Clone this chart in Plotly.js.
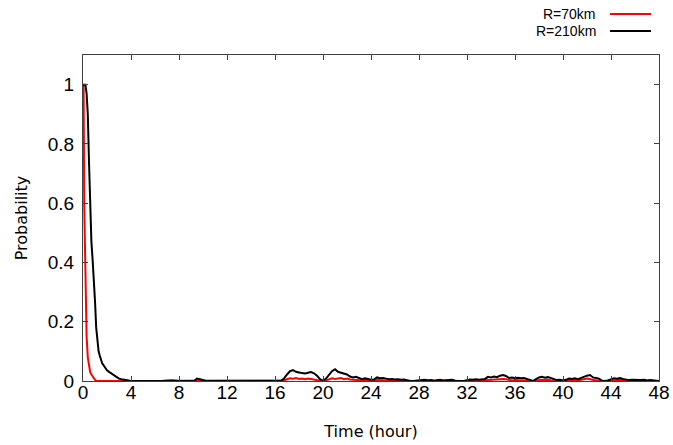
<!DOCTYPE html>
<html>
<head>
<meta charset="utf-8">
<script src="https://cdn.plot.ly/plotly-3.0.1.min.js"></script>
<style>html,body{margin:0;padding:0;background:#fff;}#chart{width:673px;height:445px;}</style>
</head>
<body>
<div id="chart"></div>
<script>
// Early part (hours) and probabilities
var blackHeadTimes = [0,0.05,0.1,0.2,0.3,0.4,0.5,0.6,0.7,0.8,0.9,1.0,1.1,1.2,1.3,1.4,1.5,1.6,1.8,2.0,2.2,2.4,2.6,2.8,3.0,3.2,3.4,3.6,3.8,4.0,6.5,6.75,7,7.25,7.5,7.75,8,9.25,9.5,9.75,10,10.25];
var blackHead = [1.0,1.0,1.0,1.0,0.97,0.9,0.74,0.57,0.47,0.41,0.35,0.27,0.18,0.13,0.1,0.085,0.072,0.06,0.048,0.036,0.03,0.024,0.018,0.012,0.008,0.006,0.004,0.002,0.001,0,0,0.001,0.002,0.002,0.002,0.001,0,0,0.008,0.006,0.002,0];
var redHeadTimes = [0,0.05,0.1,0.2,0.3,0.4,0.5,0.6,0.7,0.8,0.9,1.0,1.1,1.2,6.5,6.75,7,7.25,7.5,7.75,8,10.25,10.5,10.75,11,11.5,11.75,12,12.25];
var redHead = [0.88,1.0,0.6,0.28,0.15,0.08,0.045,0.03,0.022,0.015,0.009,0.004,0.001,0,0,0.001,0.002,0.002,0.001,0.001,0,0,0.001,0.001,0,0,0.001,0.001,0];
// Tail part: 16.5 h to 48 h
var tailTimes = [16.5,16.75,17,17.25,17.5,17.75,18,18.25,18.5,18.75,19,19.25,19.5,19.75,20,20.25,20.5,20.75,21,21.25,21.5,21.75,22,22.25,22.5,22.75,23,23.25,23.5,23.75,24,24.25,24.5,24.75,25,25.25,25.5,25.75,26,26.25,26.5,26.75,27,27.25,27.5,27.75,28,28.25,28.5,28.75,29,29.25,29.5,29.75,30,30.25,30.5,30.75,31,31.25,31.5,31.75,32,32.25,32.5,32.75,33,33.25,33.5,33.75,34,34.25,34.5,34.75,35,35.25,35.5,35.75,36,36.25,36.5,36.75,37,37.25,37.5,37.75,38,38.25,38.5,38.75,39,39.25,39.5,39.75,40,40.25,40.5,40.75,41,41.25,41.5,41.75,42,42.25,42.5,42.75,43,43.25,43.5,43.75,44,44.25,44.5,44.75,45,45.25,45.5,45.75,46,46.25,46.5,46.75,47,47.25,47.5,47.75,48];
var blackTail = [0,0.008,0.022,0.033,0.037,0.031,0.029,0.027,0.025,0.028,0.03,0.026,0.018,0.006,0.001,0.008,0.02,0.033,0.04,0.031,0.028,0.025,0.022,0.015,0.012,0.014,0.009,0.006,0.009,0.007,0.004,0.005,0.012,0.009,0.01,0.008,0.006,0.007,0.005,0.006,0.004,0.005,0.002,0,0,0.001,0.003,0.002,0.004,0.002,0.003,0.001,0.003,0.004,0.002,0.003,0.002,0.004,0.001,0,0.001,0,0.003,0.005,0.004,0.006,0.004,0.005,0.007,0.014,0.012,0.015,0.013,0.018,0.02,0.017,0.01,0.012,0.009,0.011,0.009,0.01,0.007,0.002,0,0.006,0.012,0.014,0.011,0.013,0.01,0.005,0.003,0.004,0.002,0.004,0.008,0.007,0.009,0.006,0.01,0.016,0.018,0.02,0.012,0.01,0.008,0.001,0,0.002,0.006,0.009,0.008,0.01,0.007,0.004,0.003,0.004,0.003,0.002,0.003,0.004,0.002,0.003,0.002,0.001,0];
var redTail = [0,0.002,0.006,0.009,0.008,0.01,0.007,0.008,0.006,0.008,0.007,0.006,0.003,0.001,0,0.002,0.006,0.009,0.007,0.008,0.01,0.006,0.008,0.005,0.004,0.003,0.004,0.002,0.003,0.004,0.002,0.001,0.003,0.002,0.003,0.002,0.001,0.002,0.001,0.002,0.001,0.001,0,0,0,0,0.001,0.002,0.001,0.002,0.001,0,0.001,0.002,0.001,0.001,0,0.001,0,0,0,0,0.001,0.002,0.001,0.002,0.001,0.002,0.002,0.003,0.004,0.005,0.006,0.008,0.007,0.006,0.003,0.002,0.003,0.002,0.003,0.002,0.001,0,0,0.002,0.003,0.004,0.003,0.004,0.002,0.001,0.001,0.001,0,0.001,0.002,0.002,0.003,0.002,0.004,0.006,0.008,0.006,0.003,0.002,0.002,0,0,0.001,0.002,0.003,0.002,0.003,0.002,0.001,0.001,0.001,0.001,0,0.001,0.001,0,0.001,0,0,0];
var seriesNames = ['R=70km','R=210km'];
var seriesColors = ['#ff0000','#000000'];
var xTickVals = [0,4,8,12,16,20,24,28,32,36,40,44,48];
var yTickVals = [0,0.2,0.4,0.6,0.8,1];
var yTickText = ['0','0.2','0.4','0.6','0.8','1'];

var traces = [
  {x: redHeadTimes.concat(tailTimes), y: redHead.concat(redTail), name: seriesNames[0], mode: 'lines', line: {color: seriesColors[0], width: 2}},
  {x: blackHeadTimes.concat(tailTimes), y: blackHead.concat(blackTail), name: seriesNames[1], mode: 'lines', line: {color: seriesColors[1], width: 2}}
];

var tickFont = {family: 'Liberation Sans, Arial, sans-serif', size: 19, color: '#000'};
var layout = {
  width: 673, height: 445,
  margin: {l: 83, r: 14, t: 55, b: 64},
  paper_bgcolor: '#fff', plot_bgcolor: '#fff',
  showlegend: false,
  xaxis: {
    range: [0, 48], tickvals: xTickVals, ticktext: xTickVals.map(String),
    ticks: 'inside', ticklen: 5, tickcolor: '#404040', tickwidth: 1,
    showline: true, linecolor: '#404040', linewidth: 1, mirror: 'ticks',
    showgrid: false, zeroline: false, tickfont: tickFont, ticklabelstandoff: -6,
    title: {text: 'Time (hour)', font: {family: 'DejaVu Sans, sans-serif', size: 16, color: '#000'}, standoff: 24}
  },
  yaxis: {
    range: [0, 1.1], tickvals: yTickVals, ticktext: yTickText,
    ticks: 'inside', ticklen: 5, tickcolor: '#404040', tickwidth: 1,
    showline: true, linecolor: '#404040', linewidth: 1, mirror: 'ticks',
    showgrid: false, zeroline: false, tickfont: tickFont, ticklabelstandoff: 4,
    title: {text: 'Probability', font: {family: 'DejaVu Sans, sans-serif', size: 16, color: '#000'}, standoff: 16}
  },
  annotations: [
    {xref: 'paper', yref: 'paper', x: (598-83)/576, y: (445-64-14)/326, xanchor: 'right', yanchor: 'middle', showarrow: false, text: seriesNames[0], font: {family: 'Liberation Sans, Arial, sans-serif', size: 14, color: '#000'}},
    {xref: 'paper', yref: 'paper', x: (598-83)/576, y: (445-64-31)/326, xanchor: 'right', yanchor: 'middle', showarrow: false, text: seriesNames[1], font: {family: 'Liberation Sans, Arial, sans-serif', size: 14, color: '#000'}}
  ],
  shapes: [
    {type: 'line', xref: 'paper', yref: 'paper', x0: (610-83)/576, x1: (651-83)/576, y0: (445-64-14)/326, y1: (445-64-14)/326, line: {color: seriesColors[0], width: 2}},
    {type: 'line', xref: 'paper', yref: 'paper', x0: (610-83)/576, x1: (651-83)/576, y0: (445-64-31)/326, y1: (445-64-31)/326, line: {color: seriesColors[1], width: 2}}
  ]
};
Plotly.newPlot('chart', traces, layout, {displayModeBar: false, staticPlot: true});
</script>
</body>
</html>
